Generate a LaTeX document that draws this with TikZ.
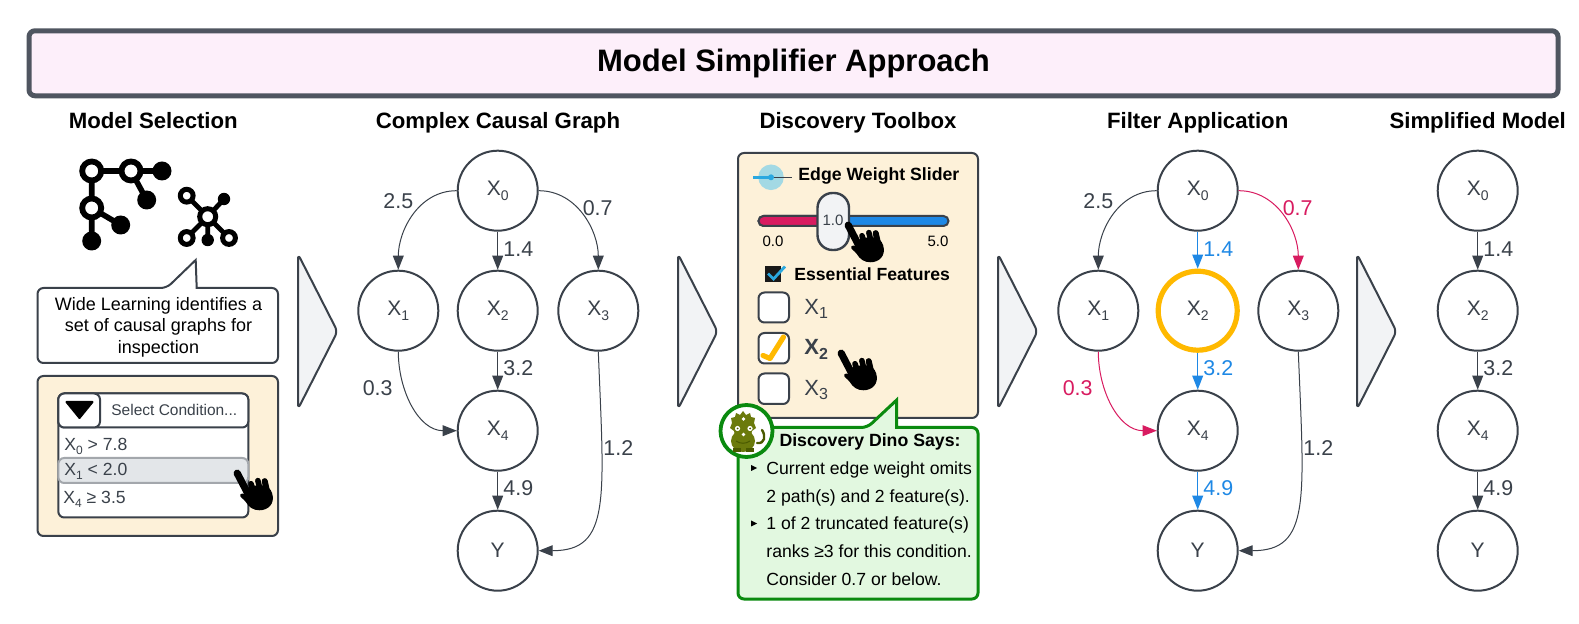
\documentclass[tikz,border=0pt]{standalone}
\usepackage{fontspec}
\setmainfont{Liberation Sans}
\usetikzlibrary{arrows.meta}
\definecolor{dk}{HTML}{3A414A}
\definecolor{titleline}{HTML}{4F5560}
\definecolor{titlefill}{HTML}{FDEFFA}
\definecolor{chev}{HTML}{F2F3F5}
\definecolor{cream}{HTML}{FDF1D9}
\definecolor{rowgray}{HTML}{E3E6E9}
\definecolor{rowline}{HTML}{A3A7AC}
\definecolor{redc}{HTML}{D81B60}
\definecolor{bluec}{HTML}{1E88E5}
\definecolor{amber}{HTML}{FFB900}
\definecolor{greenl}{HTML}{0A8A0F}
\definecolor{greenf}{HTML}{E2F8E0}
\definecolor{dino}{HTML}{6B7A0C}
\definecolor{dinod}{HTML}{4A5A00}
\definecolor{halo}{HTML}{A3D9E4}
\definecolor{iconblue}{HTML}{2AA8E0}
\newcommand{\fs}[1]{\fontsize{#1}{#1}\selectfont}
\newcommand{\Xs}[2][7]{X\raisebox{-.22em}{\fs{#1}#2}}
\tikzset{
  x=0.5pt,y=-0.5pt,
  gnode/.style={circle,draw=dk,line width=1pt,fill=white,minimum size=40pt,inner sep=0pt,text=dk,font=\fs{10.5}},
  edge/.style={draw=dk,line width=0.5pt,-{Triangle[width=5.4pt,length=7pt]}},
  elabel/.style={inner sep=0pt,text=dk,font=\fs{10.7}},
  head/.style={inner sep=0pt,anchor=base,font=\bfseries\fs{11.1}},
  chevron/.style={draw=dk,line width=1pt,fill=chev,rounded corners=2.5pt,line join=round},
  panel/.style={draw=dk,line width=1pt,rounded corners=3pt},
  txt/.style={inner sep=0pt,anchor=base,font=\fs{9}},
  dtxt/.style={inner sep=0pt,anchor=base west,font=\fs{8.8}},
  ftxt/.style={inner sep=0pt,anchor=base west,text=dk,font=\fs{8.8}},
  cbox/.style={draw=dk,line width=1pt,fill=white,rounded corners=3pt},
  ring/.style={draw=black,line width=2.9pt,fill=white},
  solid dot/.style={fill=black},
  hand/.pic={
    \begin{scope}[scale=1.06]
    \draw[black,line width=3.6pt,line cap=round] (3,3) -- (14,24);
    \draw[black,line width=2.8pt,line cap=round] (16,13) -- (20,24);
    \draw[black,line width=2.8pt,line cap=round] (22.5,10) -- (26,24);
    \draw[black,line width=3pt,line cap=round] (29,10.5) -- (32,24);
    \fill[black] (14,16) .. controls (22,14) and (33,12) .. (36,22)
       .. controls (39,32) and (32,38) .. (24,38)
       .. controls (18,38) and (14,35) .. (11,30)
       .. controls (9,27) and (5,26) .. (6,23)
       .. controls (8,21) and (12,23) .. (14,25) -- cycle;
    \end{scope}
  }
}
\begin{document}
\begin{tikzpicture}
\useasboundingbox (0,0) rectangle (1579,624);
\fill[white] (0,0) rectangle (1579,624);
% title
\node[draw=titleline,line width=2.5pt,fill=titlefill,rounded corners=3pt,minimum width=764.5pt,minimum height=32.5pt,inner sep=0pt,font=\bfseries\fs{15.5}] (title) at (793.5,63.3) {Model Simplifier Approach};
% headers
\node[head] (h1) at (153.3,128.5) {Model Selection};
\node[head] (h2) at (498,128.5) {Complex Causal Graph};
\node[head] (h3) at (858,128.5) {Discovery Toolbox};
\node[head] (h4) at (1197.7,128.5) {Filter Application};
\node[head] (h5) at (1477.7,128.5) {Simplified Model};
% chevrons
\draw[chevron] (298,254) -- (337.5,331.5) -- (298,409) -- cycle;
\draw[chevron] (678,254) -- (717.5,331.5) -- (678,409) -- cycle;
\draw[chevron] (998,254) -- (1037.5,331.5) -- (998,409) -- cycle;
\draw[chevron] (1357,254) -- (1396.5,331.5) -- (1357,409) -- cycle;
% network icon big
\draw[black,line width=2.8pt] (91.7,171) -- (162,171) (131,171) -- (146.7,200) (91.7,171) -- (91.7,241) (91.7,208) -- (120.7,225);
\foreach \p/\q in {91.7/171,131/171,91.7/208} \draw[ring] (\p,\q) circle (4.75pt);
\foreach \p/\q in {162/171,146.7/200,120.7/225,91.7/241} \fill[solid dot] (\p,\q) circle (4.75pt);
% network icon small
\draw[black,line width=2.4pt] (207.7,216.7) -- (186.7,195.7) (207.7,216.7) -- (224,199) (207.7,216.7) -- (186.7,238) (207.7,216.7) -- (207.7,240) (207.7,216.7) -- (229,238);
\foreach \p/\q/\r in {207.7/216.7/4,186.7/195.7/3.2,186.7/238/3.2,229/238/3.2} \draw[black,line width=2.5pt,fill=white] (\p,\q) circle (\r pt);
\foreach \p/\q in {207.7/240,224/199} \fill[solid dot] (\p,\q) circle (3.1pt);
% callout
\draw[panel,fill=white] (37.5,288) -- (166.7,288) [sharp corners] -- (195.7,260) -- (196.7,288) [rounded corners=3pt] -- (278,288) -- (278,363) -- (37.5,363) -- cycle;
\node[txt] (c1) at (158.5,311) {Wide Learning identifies a};
\node[txt] (c2) at (158.5,332) {set of causal graphs for};
\node[txt] (c3) at (158.5,353.5) {inspection};
% condition panel
\draw[panel,fill=cream] (37.5,376) rectangle (278,536);
\draw[cbox] (58.3,393.5) rectangle (248.3,517.5);
\draw[cbox] (58.3,393.5) rectangle (248.3,427.5);
\draw[cbox] (58.3,393.5) rectangle (100,427.5);
\fill[black,draw=black,line width=1pt,line join=round] (66.5,402) -- (92.5,402) -- (79.5,418) -- cycle;
\node[inner sep=0pt,anchor=base west,text=dk,font=\fs{7.75}] (sel) at (111,416) {Select Condition...};
\draw[draw=rowline,line width=1pt,fill=rowgray,rounded corners=3pt] (58.3,458) rectangle (248.3,483);
\node[ftxt] (r0) at (64,450.7) {\Xs[6]{0} > 7.8};
\node[ftxt] (r1) at (64,475.7) {\Xs[6]{1} < 2.0};
\node[ftxt] (r2) at (63,503.3) {\Xs[6]{4} ≥ 3.5};
\pic at (234,470) {hand};
% toolbox panel
\draw[panel,fill=cream] (738,153) rectangle (978,418);
\fill[halo] (771,177.3) circle (6.4pt);
\draw[dk,line width=0.5pt] (771,177.3) -- (791.7,177.3);
\draw[iconblue,line width=1.3pt] (753,177.3) -- (771,177.3);
\fill[iconblue] (771,177.3) circle (1.5pt);
\node[inner sep=0pt,anchor=base west,font=\bfseries\fs{8.85}] (ews) at (798,180.7) {Edge Weight Slider};
\draw[dk,line width=1pt,fill=bluec,rounded corners=2.5pt] (758.5,216) rectangle (948.5,226);
\draw[dk,line width=1pt,fill=redc,rounded corners=2.5pt] (758.5,216) rectangle (830,226);
\draw[dk,line width=1.2pt,fill=chev,rounded corners=7.5pt] (817.5,193) rectangle (849,250);
\node[inner sep=0pt,text=dk,font=\fs{7.5}] (thumb) at (833,220) {1.0};
\node[inner sep=0pt,font=\fs{7.5}] (lo) at (773,241.7) {0.0};
\node[inner sep=0pt,font=\fs{7.5}] (hi) at (938,241.7) {5.0};
\pic at (845,222) {hand};
\fill[black!90] (765,266) rectangle (781,282);
\draw[iconblue,line width=1.4pt] (768,273.5) -- (773.5,279) -- (785,266.5);
\node[inner sep=0pt,anchor=west,font=\bfseries\fs{8.8}] (ess) at (794,274.3) {Essential Features};
\draw[cbox] (758.5,292.5) rectangle (789,322.5);
\draw[cbox] (758.5,333) rectangle (789,363.5);
\draw[cbox] (758.5,373.5) rectangle (789,404);
\draw[amber,line width=2.6pt,line cap=round,line join=round] (763,355.5) -- (770,358.5) -- (783.5,337);
\node[inner sep=0pt,anchor=west,text=dk,font=\fs{11}] (f1) at (804,309) {\Xs[8]{1}};
\node[inner sep=0pt,anchor=west,text=dk,font=\bfseries\fs{11}] (f2) at (804,349.5) {\Xs[8]{2}};
\node[inner sep=0pt,anchor=west,text=dk,font=\fs{11}] (f3) at (804,390) {\Xs[8]{3}};
\pic at (838,350) {hand};
% green callout
\draw[draw=greenl,line width=1.5pt,fill=greenf,rounded corners=3pt] (738,427.5) -- (867.3,427.5) [sharp corners] -- (896.7,400) -- (896.7,427.5) [rounded corners=3pt] -- (978,427.5) -- (978,599) -- (738,599) -- cycle;
\node[inner sep=0pt,anchor=base,font=\bfseries\fs{8.85}] (dd) at (870,446.7) {Discovery Dino Says:};
\fill[black] (751,465) -- (757,468) -- (751,471) -- cycle;
\fill[black] (751,520.5) -- (757,523.5) -- (751,526.5) -- cycle;
\node[dtxt] (d1) at (766,474.3) {Current edge weight omits};
\node[dtxt] (d2) at (766,502.3) {2 path(s) and 2 feature(s).};
\node[dtxt] (d3) at (766,530) {1 of 2 truncated feature(s)};
\node[dtxt] (d4) at (766,557.7) {ranks ≥3 for this condition.};
\node[dtxt] (d5) at (766,585.7) {Consider 0.7 or below.};
% dino
\draw[draw=greenl,line width=1.9pt,fill=white] (746.5,431) circle (13pt);
\draw[dinod,line width=1.2pt,line cap=round] (757,443) .. controls (765,444) and (766,436) .. (762,430);
\fill[dino] (743,411) -- (746,415) -- (750,413) -- (751,417) -- (755,418) -- (754,423) -- (756,428) -- (752,431) -- (751,436) -- (735,436) -- (734,431) -- (730,428) -- (732,423) -- (731,418) -- (735,417) -- (736,413) -- (740,415) -- cycle;
\fill[dino] (743,441) ellipse (6pt and 5.5pt);
\fill[dinod] (733,448) rectangle (741,452.5);
\fill[dinod] (746,448) rectangle (754,452.5);
\fill[white] (737.5,428.5) circle (1.3pt);
\fill[white] (750,428.5) circle (1.3pt);
\fill[white] (743.5,419) circle (.9pt);
\fill[dinod] (737.5,428.5) circle (.5pt);
\fill[dinod] (750,428.5) circle (.5pt);
\fill[white] (743.5,434.5) circle (.9pt);
\draw[dinod,line width=.5pt] (736,441) .. controls (740,444) and (746,444) .. (750,441);
% complex graph
\node[gnode] (a0) at (497.7,190.7) {\Xs{0}};
\node[gnode] (a1) at (398.3,310.7) {\Xs{1}};
\node[gnode] (a2) at (497.7,310.7) {\Xs{2}};
\node[gnode] (a3) at (598.3,310.7) {\Xs{3}};
\node[gnode] (a4) at (497.7,430.7) {\Xs{4}};
\node[gnode] (ay) at (497.7,550.7) {Y};
\draw[edge] (a0.west) to[out=180,in=90] (a1.north);
\draw[edge] (a0) -- (a2);
\draw[edge] (a0.east) to[out=0,in=90] (a3.north);
\draw[edge] (a1.south) to[out=-90,in=180] (a4.west);
\draw[edge] (a2) -- (a4);
\draw[edge] (a4) -- (ay);
\draw[edge] (a3.south) .. controls +(6,149) and +(72,0) .. (ay.east);
\node[elabel] (la1) at (398.3,200.7) {2.5};
\node[elabel] (la2) at (597.7,208) {0.7};
\node[elabel] (la3) at (518.3,249) {1.4};
\node[elabel] (la4) at (518.3,368.5) {3.2};
\node[elabel] (la5) at (377.7,387.7) {0.3};
\node[elabel] (la6) at (618.3,448.3) {1.2};
\node[elabel] (la7) at (518.3,488.3) {4.9};
% filter graph
\node[gnode] (b0) at (1197.7,190.7) {\Xs{0}};
\node[gnode] (b1) at (1098.3,310.7) {\Xs{1}};
\node[gnode,draw=amber,line width=2.6pt,minimum size=39.5pt] (b2) at (1197.7,310.7) {\Xs{2}};
\node[gnode] (b3) at (1298.3,310.7) {\Xs{3}};
\node[gnode] (b4) at (1197.7,430.7) {\Xs{4}};
\node[gnode] (by) at (1197.7,550.7) {Y};
\draw[edge] (b0.west) to[out=180,in=90] (b1.north);
\draw[edge,draw=bluec,color=bluec] (b0) -- (b2);
\draw[edge,draw=redc,color=redc] (b0.east) to[out=0,in=90] (b3.north);
\draw[edge,draw=redc,color=redc] (b1.south) to[out=-90,in=180] (b4.west);
\draw[edge,draw=bluec,color=bluec] (b2) -- (b4);
\draw[edge,draw=bluec,color=bluec] (b4) -- (by);
\draw[edge] (b3.south) .. controls +(6,149) and +(72,0) .. (by.east);
\node[elabel] (lb1) at (1098.3,200.7) {2.5};
\node[elabel,text=redc] (lb2) at (1297.7,208) {0.7};
\node[elabel,text=bluec] (lb3) at (1218.3,249) {1.4};
\node[elabel,text=bluec] (lb4) at (1218.3,368.5) {3.2};
\node[elabel,text=redc] (lb5) at (1077.7,387.7) {0.3};
\node[elabel] (lb6) at (1318.3,448.3) {1.2};
\node[elabel,text=bluec] (lb7) at (1218.3,488.3) {4.9};
% simplified
\node[gnode] (c0) at (1477.7,190.7) {\Xs{0}};
\node[gnode] (c2n) at (1477.7,310.7) {\Xs{2}};
\node[gnode] (c4) at (1477.7,430.7) {\Xs{4}};
\node[gnode] (cy) at (1477.7,550.7) {Y};
\draw[edge] (c0) -- (c2n);
\draw[edge] (c2n) -- (c4);
\draw[edge] (c4) -- (cy);
\node[elabel] (lc1) at (1498.3,249) {1.4};
\node[elabel] (lc2) at (1498.3,368.5) {3.2};
\node[elabel] (lc3) at (1498.3,488.3) {4.9};
\end{tikzpicture}
\end{document}
